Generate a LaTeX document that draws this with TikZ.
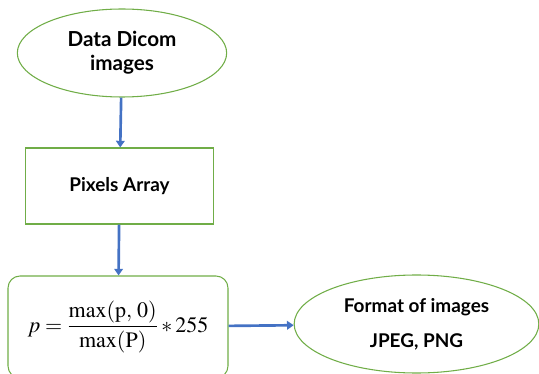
\documentclass[tikz,border=0pt]{standalone}
\usepackage{mathptmx}
\usepackage[no-math]{fontspec}
\setmainfont{Lato}
\usepackage{tikz}
\usetikzlibrary{shapes.geometric}
\usetikzlibrary{arrows.meta}

\definecolor{boxgreen}{RGB}{112,173,71}
\definecolor{arrowblue}{RGB}{68,114,196}

\begin{document}
\begin{tikzpicture}[x=0.75pt, y=-0.75pt,
    oval/.style={ellipse, draw=boxgreen, line width=0.8pt, align=center, inner sep=0pt},
    flowbox/.style={rectangle, draw=boxgreen, line width=0.8pt, align=center},
    flowarrow/.style={draw=arrowblue, line width=2pt, arrows = {-Triangle[width=6.5pt, length=5pt]}}]
    \useasboundingbox (0, 0) rectangle (539, 374);
    \node[oval, minimum width=157pt, minimum height=66pt,
        font=\fontsize{15.5}{18}\selectfont\bfseries] (dicom) at (122, 53)
        {Data Dicom\\images};
    \node[flowbox, minimum width=141.5pt, minimum height=57pt,
        font=\fontsize{14.2}{17}\selectfont\bfseries] (pixels) at (119.5, 186)
        {Pixels Array};
    \node[flowbox, rounded corners=9pt, minimum width=165pt, minimum height=76.5pt,
        font=\fontsize{16.5}{20}\selectfont] (norm) at (118, 327)
        {$\displaystyle p=\frac{\mathrm{max(p,\,0)}}{\mathrm{max(P)}}*255$};
    \node[oval, minimum width=183.5pt, minimum height=73.5pt,
        font=\fontsize{14.2}{16}\selectfont\bfseries] (format) at (416.5, 324)
        {Format of images\\[10pt]JPEG, PNG};
    \draw[flowarrow] (dicom) -- (pixels);
    \draw[flowarrow] (pixels) -- (norm);
    \draw[flowarrow] (norm) -- (format);
\end{tikzpicture}
\end{document}
